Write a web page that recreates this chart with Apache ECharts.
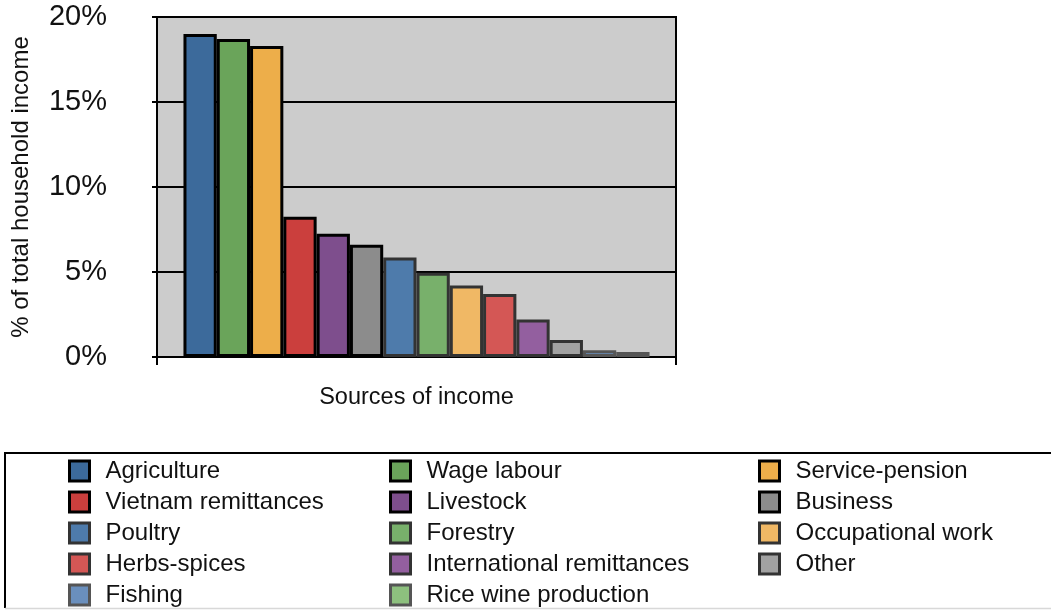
<!DOCTYPE html>
<html>
<head>
<meta charset="utf-8">
<script src="https://cdn.jsdelivr.net/npm/echarts@6/dist/echarts.min.js"></script>
<style>
  html, body { margin: 0; padding: 0; background: #fff; }
  #chart { width: 1051px; height: 610px; }
</style>
</head>
<body>
<div id="chart"></div>
<script>
// Income sources, ordered by share of total household income (%)
const categories = [
  'Agriculture', 'Wage labour', 'Service-pension',
  'Vietnam remittances', 'Livestock', 'Business',
  'Poultry', 'Forestry', 'Occupational work',
  'Herbs-spices', 'International remittances', 'Other',
  'Fishing', 'Rice wine production'
];
const shares = [19.0, 18.7, 18.3, 8.25, 7.25, 6.6, 5.85, 4.95, 4.2, 3.7, 2.2, 1.0, 0.4, 0.3];

const fillColors = [
  '#3c6a9b', '#6aa45a', '#edae4a',
  '#cb3f3d', '#7e4e8d', '#8c8c8c',
  '#4e7bab', '#78b06b', '#f0b865',
  '#d45755', '#935f9f', '#a2a2a2',
  '#6a8fbd', '#8dc07e'
];
const edgeColors = [
  '#000', '#000', '#000',
  '#000', '#000', '#000',
  '#333', '#333', '#333',
  '#333', '#333', '#333',
  '#555', '#555'
];

// Legend columns (indices into categories)
const legendColumns = [
  [0, 3, 6, 9, 12],
  [1, 4, 7, 10, 13],
  [2, 5, 8, 11]
];
const legendLefts = [68, 389, 758];

const FONT = '"Liberation Sans", Arial, Helvetica, sans-serif';

const series = categories.map((name, i) => ({
  type: 'bar',
  name: name,
  data: [shares[i]],
  barGap: '0%',
  barCategoryGap: '10.2%',
  itemStyle: { color: fillColors[i], borderColor: edgeColors[i], borderWidth: 3 },
  emphasis: { disabled: true }
}));

const legends = legendColumns.map((col, c) => ({
  orient: 'vertical',
  left: legendLefts[c],
  top: 459,
  height: 200,
  padding: 0,
  itemWidth: 20,
  itemHeight: 20,
  itemGap: 7,
  icon: 'rect',
  selectedMode: false,
  textStyle: { fontFamily: FONT, fontSize: 24, color: '#111', padding: [0, 0, 0, 11] },
  data: col.map(i => ({
    name: categories[i],
    itemStyle: { color: fillColors[i], borderColor: edgeColors[i], borderWidth: 3 }
  }))
}));

const chart = echarts.init(document.getElementById('chart'), null, { renderer: 'canvas' });
chart.setOption({
  animation: false,
  backgroundColor: '#fff',
  grid: {
    left: 157, right: 375, top: 17, bottom: 253,
    show: true, backgroundColor: '#cccccc', borderColor: '#000', borderWidth: 2
  },
  legend: legends,
  xAxis: {
    type: 'category',
    data: [''],
    name: 'Sources of income',
    nameLocation: 'middle',
    nameGap: 29,
    nameTextStyle: { fontFamily: FONT, fontSize: 23.5, color: '#111' },
    axisLine: { show: true, lineStyle: { color: '#000', width: 2 } },
    axisTick: { show: true, length: 8, lineStyle: { color: '#000', width: 2 } },
    axisLabel: { show: false }
  },
  yAxis: {
    type: 'value',
    min: 0, max: 20, interval: 5,
    name: '% of total household income',
    nameLocation: 'middle',
    nameGap: 124,
    nameRotate: 90,
    nameTextStyle: { fontFamily: FONT, fontSize: 24, color: '#111' },
    axisLine: { show: true, lineStyle: { color: '#000', width: 2 } },
    axisTick: { show: true, length: 5, lineStyle: { color: '#000', width: 2 } },
    axisLabel: { formatter: '{value}%', fontFamily: FONT, fontSize: 29, color: '#111', margin: 50 },
    splitLine: { show: true, lineStyle: { color: '#000', width: 2 } }
  },
  series: series,
  graphic: [
    {
      type: 'polyline',
      shape: { points: [[5, 608], [5, 453], [1060, 453]] },
      style: { stroke: '#000', lineWidth: 2, fill: null },
      silent: true
    },
    {
      type: 'line',
      shape: { x1: 5, y1: 608.5, x2: 1060, y2: 608.5 },
      style: { stroke: '#d8d8d8', lineWidth: 1.5 },
      silent: true
    }
  ]
});
</script>
</body>
</html>
